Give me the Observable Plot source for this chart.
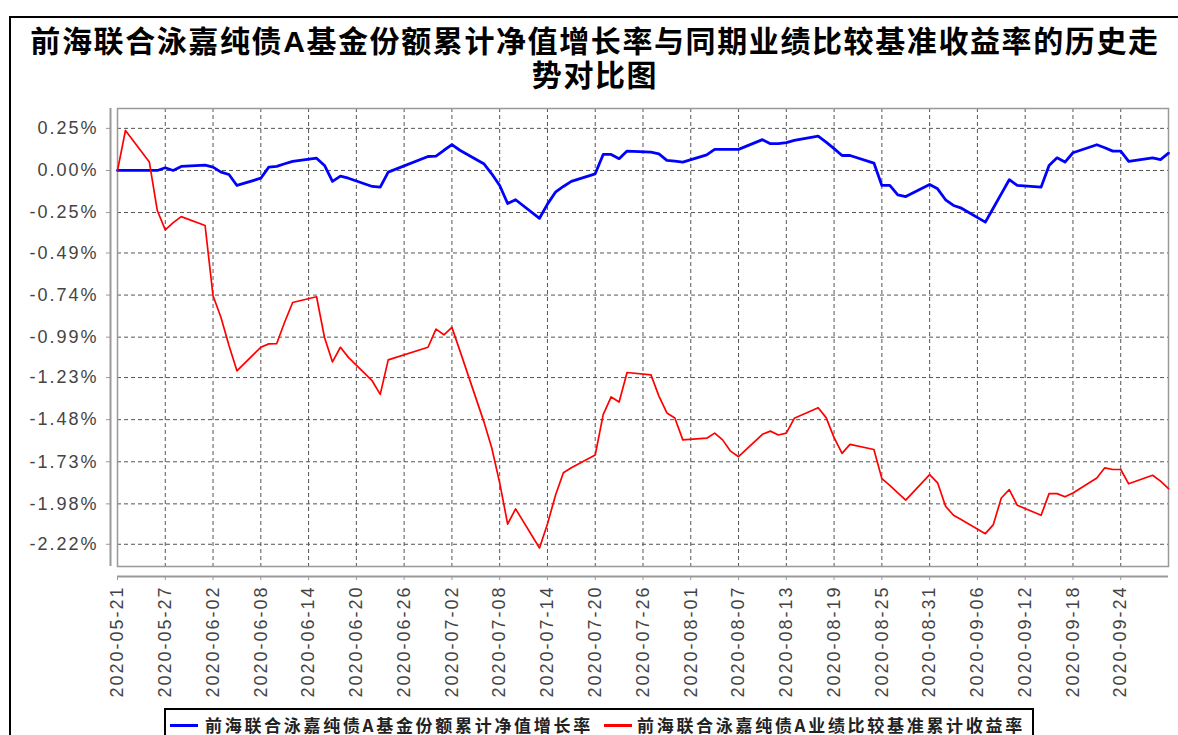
<!DOCTYPE html>
<html>
<head>
<meta charset="utf-8">
<script src="https://cdn.jsdelivr.net/npm/d3@7"></script>
<script src="https://cdn.jsdelivr.net/npm/@observablehq/plot@0.6"></script>
<style>
  html, body { margin: 0; padding: 0; background: #fff; width: 1178px; height: 735px; overflow: hidden; }
  #frame { position: absolute; left: 9px; top: 16px; width: 1300px; height: 900px; border-top: 2px solid #000; border-left: 2px solid #000; z-index: 3; pointer-events: none; }
  .title { position: absolute; left: 10px; width: 1170px; height: 33px; text-align: center; white-space: nowrap;
           font-family: "Liberation Sans", "Noto Sans CJK SC", sans-serif; font-weight: 700; font-size: 30px; line-height: 33px; letter-spacing: 1.6px; color: #000; }
  #t1 { top: 25px; }
  #t2 { top: 59px; }
  #chart { position: absolute; left: 0; top: 95px; }
  #chart svg { background: transparent !important; }
  #legend { position: absolute; left: 164px; top: 708px; width: 866px; height: 60px; border: 2px solid #000; background: #fff; }
  .sw { position: absolute; top: 14px; width: 28px; height: 3px; }
  .lt { position: absolute; top: 3px; font-family: "Noto Sans CJK SC", sans-serif; font-weight: 700; font-size: 17px; line-height: 24px; letter-spacing: 2.7px; color: #222; white-space: nowrap; }
</style>
</head>
<body>
<div id="frame"></div>
<div class="title" id="t1">前海联合泳嘉纯债A基金份额累计净值增长率与同期业绩比较基准收益率的历史走</div>
<div class="title" id="t2">势对比图</div>
<div id="chart"></div>
<div id="legend"></div>
<script>
// ---- data ----
const dates = [
  "2020-05-21","2020-05-22","2020-05-25","2020-05-26","2020-05-27","2020-05-28","2020-05-29",
  "2020-06-01","2020-06-02","2020-06-03","2020-06-04","2020-06-05","2020-06-08","2020-06-09","2020-06-10","2020-06-11","2020-06-12",
  "2020-06-15","2020-06-16","2020-06-17","2020-06-18","2020-06-19","2020-06-22","2020-06-23","2020-06-24","2020-06-29","2020-06-30",
  "2020-07-01","2020-07-02","2020-07-03","2020-07-06","2020-07-07","2020-07-08","2020-07-09","2020-07-10",
  "2020-07-13","2020-07-14","2020-07-15","2020-07-16","2020-07-17","2020-07-20","2020-07-21","2020-07-22","2020-07-23","2020-07-24",
  "2020-07-27","2020-07-28","2020-07-29","2020-07-30","2020-07-31",
  "2020-08-03","2020-08-04","2020-08-05","2020-08-06","2020-08-07","2020-08-10","2020-08-11","2020-08-12","2020-08-13","2020-08-14",
  "2020-08-17","2020-08-18","2020-08-19","2020-08-20","2020-08-21","2020-08-24","2020-08-25","2020-08-26","2020-08-27","2020-08-28",
  "2020-08-31","2020-09-01","2020-09-02","2020-09-03","2020-09-04","2020-09-07","2020-09-08","2020-09-09","2020-09-10","2020-09-11",
  "2020-09-14","2020-09-15","2020-09-16","2020-09-17","2020-09-18","2020-09-21","2020-09-22","2020-09-23","2020-09-24","2020-09-25",
  "2020-09-28","2020-09-29","2020-09-30"
];
const navGrowth = [
  0.000, 0.000, 0.000, 0.000, 0.016, 0.000, 0.024,
  0.032, 0.020, -0.010, -0.024, -0.089, -0.046, 0.020, 0.024, 0.040, 0.054,
  0.073, 0.030, -0.065, -0.034, -0.046, -0.095, -0.099, -0.010, 0.083, 0.085,
  0.120, 0.153, 0.120, 0.040, -0.020, -0.089, -0.196, -0.174,
  -0.284, -0.200, -0.129, -0.095, -0.065, -0.020, 0.095, 0.095, 0.070, 0.115,
  0.109, 0.099, 0.060, 0.055, 0.050,
  0.093, 0.125, 0.125, 0.125, 0.125, 0.183, 0.159, 0.159, 0.165, 0.179,
  0.204, 0.168, 0.130, 0.089, 0.089, 0.044, -0.089, -0.089, -0.145, -0.155,
  -0.083, -0.109, -0.174, -0.208, -0.224, -0.307, -0.223, -0.139, -0.055, -0.089,
  -0.099, 0.030, 0.075, 0.050, 0.105, 0.153, 0.135, 0.115, 0.115, 0.054,
  0.075, 0.064, 0.103
];
const benchmark = [
  0.000, 0.238, 0.050, -0.238, -0.353, -0.310, -0.274,
  -0.327, -0.744, -0.873, -1.040, -1.190, -1.050, -1.030, -1.028, -0.900, -0.784,
  -0.750, -0.992, -1.137, -1.050, -1.110, -1.250, -1.330, -1.125, -1.050, -0.942,
  -0.976, -0.932, -1.070, -1.490, -1.647, -1.855, -2.100, -2.010,
  -2.242, -2.100, -1.930, -1.795, -1.765, -1.690, -1.450, -1.345, -1.375, -1.200,
  -1.214, -1.340, -1.440, -1.470, -1.600,
  -1.590, -1.560, -1.600, -1.667, -1.700, -1.567, -1.548, -1.571, -1.560, -1.472,
  -1.409, -1.468, -1.587, -1.680, -1.627, -1.657, -1.830, -1.870, -1.915, -1.958,
  -1.806, -1.855, -1.994, -2.048, -2.075, -2.157, -2.103, -1.945, -1.895, -1.988,
  -2.048, -1.919, -1.919, -1.938, -1.915, -1.826, -1.766, -1.776, -1.776, -1.861,
  -1.810, -1.845, -1.890
];
const xTickLabels = [
  "2020-05-21","2020-05-27","2020-06-02","2020-06-08","2020-06-14","2020-06-20","2020-06-26",
  "2020-07-02","2020-07-08","2020-07-14","2020-07-20","2020-07-26","2020-08-01","2020-08-07",
  "2020-08-13","2020-08-19","2020-08-25","2020-08-31","2020-09-06","2020-09-12","2020-09-18","2020-09-24"
];
const yTickValues = [0.25, 0.00, -0.25, -0.49, -0.74, -0.99, -1.23, -1.48, -1.73, -1.98, -2.22];
const xDomainLabels = ["2020-05-21", "2020-09-30"];
const yDomain = [-2.352, 0.368];
const seriesNames = ["前海联合泳嘉纯债A基金份额累计净值增长率", "前海联合泳嘉纯债A业绩比较基准累计收益率"];
const seriesColors = ["#0000ff", "#ff0000"];

// ---- build ----
const parse = d3.utcParse("%Y-%m-%d");
const fmt = d3.utcFormat("%Y-%m-%d");
const xTicks = xTickLabels.map(parse);
const xDomain = xDomainLabels.map(parse);
const navData = dates.map((d, i) => ({date: parse(d), value: navGrowth[i]}));
const benchData = dates.map((d, i) => ({date: parse(d), value: benchmark[i]}));

const gridStyle = {stroke: "#555", strokeOpacity: 1, strokeWidth: 1, strokeDasharray: "4,3"};

const chart = Plot.plot({
  width: 1178,
  height: 610,
  marginTop: 13,
  marginLeft: 117,
  marginRight: 10,
  marginBottom: 139,
  x: {type: "utc", domain: xDomain},
  y: {domain: yDomain},
  style: {fontFamily: "'Liberation Sans', Arial, sans-serif", fontSize: "18px", color: "#444", background: "transparent", letterSpacing: "2px"},
  marks: [
    Plot.gridX(xTicks, gridStyle),
    Plot.gridY(yTickValues, gridStyle),
    Plot.frame({stroke: "#999", strokeWidth: 1.5}),
    Plot.ruleX([xDomain[0]], {dx: -7, stroke: "#999", strokeWidth: 2}),
    Plot.ruleY([yDomain[0]], {dy: 10, stroke: "#999", strokeWidth: 2}),
    Plot.axisY(yTickValues, {dx: -7, tickSize: 4, tickPadding: 8, stroke: "#999", fill: "#444",
      tickFormat: d => d.toFixed(2) + "%", label: null}),
    Plot.axisX(xTicks, {dy: 10, tickSize: 4, tickPadding: 5, tickRotate: -90, stroke: "#999", fill: "#444",
      tickFormat: fmt, label: null}),
    Plot.line(navData, {x: "date", y: "value", stroke: seriesColors[0], strokeWidth: 2.8}),
    Plot.line(benchData, {x: "date", y: "value", stroke: seriesColors[1], strokeWidth: 1.7})
  ]
});
document.getElementById("chart").appendChild(chart);

// legend
const legend = document.getElementById("legend");
const swX = [4, 438], txX = [39, 471];
seriesNames.forEach((name, i) => {
  const sw = document.createElement("div");
  sw.className = "sw"; sw.style.left = swX[i] + "px"; sw.style.background = seriesColors[i];
  const t = document.createElement("div");
  t.className = "lt"; t.style.left = txX[i] + "px"; t.textContent = name;
  legend.appendChild(sw); legend.appendChild(t);
});
</script>
</body>
</html>
